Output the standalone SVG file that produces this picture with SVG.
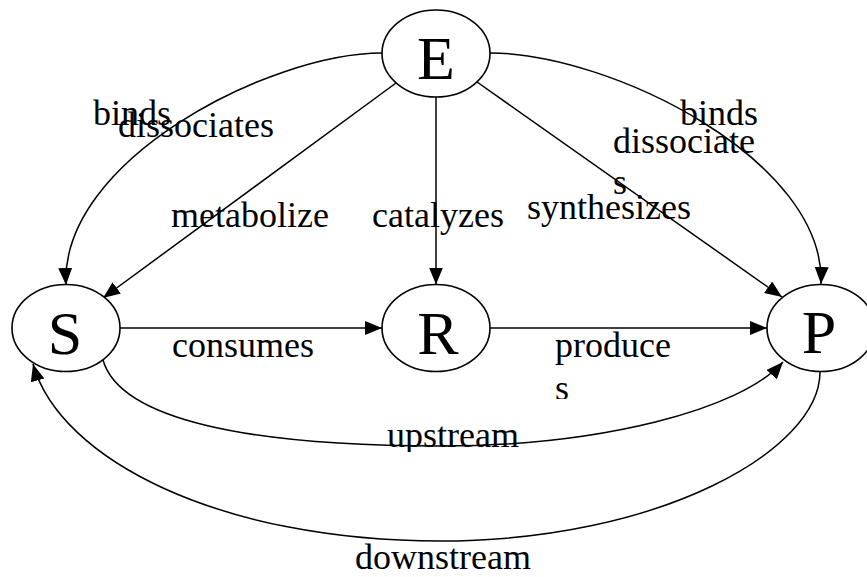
<svg xmlns="http://www.w3.org/2000/svg" width="867" height="577" viewBox="0 0 867 577">
<style>
.node{fill:#fff;stroke:#000;stroke-width:1.6}
.nl{font-family:"Liberation Serif","Times New Roman",serif;font-size:62px;fill:#000;text-anchor:middle}
.el{font-family:"Liberation Serif","Times New Roman",serif;font-size:36px;fill:#000}
.edge{fill:none;stroke:#000;stroke-width:1.5}
</style>
<defs>
<marker id="arr" markerUnits="userSpaceOnUse" markerWidth="18" markerHeight="15" refX="17" refY="7" orient="auto">
<path d="M0,0 L17,7 L0,14 z" fill="#000"/>
</marker>
<clipPath id="c1"><rect x="600" y="160" width="40" height="35"/></clipPath>
<clipPath id="c2"><rect x="540" y="370" width="40" height="29"/></clipPath>
<clipPath id="c3"><rect x="370" y="400" width="170" height="52"/></clipPath>
</defs>
<g id="connectors">
<path class="edge" d="M382,53 C270,53 60,160 66,285" marker-end="url(#arr)"/>
<path class="edge" d="M490,53 C610,53 826,160 821,284" marker-end="url(#arr)"/>
<path class="edge" d="M396,83 L103,298" marker-end="url(#arr)"/>
<path class="edge" d="M436,97 L436,284.5" marker-end="url(#arr)"/>
<path class="edge" d="M477,82 L782,297" marker-end="url(#arr)"/>
<path class="edge" d="M120,328 L382,328" marker-end="url(#arr)"/>
<path class="edge" d="M490,328 L767,328" marker-end="url(#arr)"/>
<path class="edge" d="M103,360 C120,420 250,446 440,446 C600,446 740,410 783,362" marker-end="url(#arr)"/>
<path class="edge" d="M820,372 C820,450 660,541 440,541 C220,541 60,460 33,364" marker-end="url(#arr)"/>
<text class="el" x="93" y="125">binds</text>
<text class="el" x="118" y="137">dissociates</text>
<text class="el" x="680" y="125">binds</text>
<text class="el" x="613" y="153">dissociate</text>
<text class="el" x="613" y="194" clip-path="url(#c1)">s</text>
<text class="el" x="171" y="227">metabolize</text>
<text class="el" x="372" y="227">catalyzes</text>
<text class="el" x="527" y="219">synthesizes</text>
<text class="el" x="172" y="357">consumes</text>
<text class="el" x="555" y="357">produce</text>
<text class="el" x="555" y="400" clip-path="url(#c2)">s</text>
<text class="el" x="387" y="447" clip-path="url(#c3)">upstream</text>
<text class="el" x="355" y="569">downstream</text>
</g>
<g id="E"><ellipse class="node" cx="436" cy="53.5" rx="54" ry="43.5"/><text class="nl" x="436" y="79">E</text></g>
<g id="S"><ellipse class="node" cx="66" cy="328" rx="54" ry="43.5"/><text class="nl" x="65" y="354">S</text></g>
<g id="R"><ellipse class="node" cx="436" cy="328" rx="54" ry="43.5"/><text class="nl" x="438" y="354">R</text></g>
<g id="P"><ellipse class="node" cx="821" cy="328" rx="54" ry="43.5"/><text class="nl" x="819" y="353">P</text></g>
</svg>
